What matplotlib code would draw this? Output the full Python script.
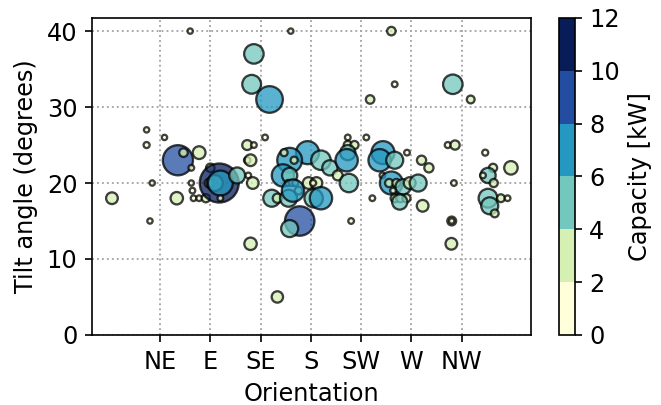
import matplotlib
matplotlib.use("Agg")
import matplotlib.pyplot as plt
import matplotlib.colors as mcolors
import matplotlib.cm as cm

# orientation in degrees (0 = N, 90 = E, 180 = S ...)
orientation = [2, 33, 49, 33, 38, 36, 72, 61, 66, 80, 73, 90, 60, 73, 74, 75, 80, 86,
               98, 89, 94, 99, 99, 114, 124, 128, 123, 129, 123, 126, 139,
               129, 127, 143, 162, 145, 150, 160, 126, 150,
               177, 161, 156, 165, 189, 197, 204, 155, 161, 159.5, 163, 166, 169, 164,
               178, 185, 182, 182.5, 189, 170, 161,
               213, 229.6, 213, 219, 213, 212, 214, 233, 244.5, 241.5, 255, 266, 244,
               252, 250, 256.5, 262.5, 268.4, 276, 253.5, 255, 260, 265.5, 259.5, 235,
               279, 285.6, 280, 216, 252, 255,
               307, 323, 302.5, 309, 308, 336, 343, 359, 338.5, 334, 343.6, 338.5, 340,
               350, 356, 344.5, 306, 306, 305.7]
tilt = [18, 27, 26, 25, 20, 15, 40, 23, 24, 24, 22, 22, 18, 20, 19, 18, 18, 18,
        20, 20, 20, 20, 18, 21, 21, 20, 25, 25, 23, 23, 26,
        37, 33, 31, 40, 18, 18, 18, 12, 5,
        24, 23, 24, 23, 23, 22, 21, 21, 21, 20, 20, 20, 19, 19,
        20, 20, 20, 18, 18, 15, 14,
        26, 26, 25, 25, 24, 23, 20, 31, 24, 23, 23, 24, 21,
        20, 20, 20, 19.5, 20, 20, 19, 18, 18, 18, 17.5, 18,
        23, 22, 17, 15, 40, 33,
        33, 31, 25, 25, 20, 24, 22, 22, 21, 21, 20, 18, 17,
        18, 18, 16, 15, 15, 12]
capacity = [3.3, 1.5, 1.5, 1.7, 1.5, 1.5, 1.5, 8.5, 2.4, 3.6, 1.6, 2.4, 3.5, 1.5, 1.6, 1.6, 1.6, 2.3,
            11, 2.5, 4.5, 7, 1.6, 4.5, 1.6, 3.3, 2.8, 1.6, 1.8, 3.3, 1.6,
            5.5, 5.3, 7.5, 1.5, 4.8, 2.6, 4.8, 3.5, 3.2,
            6.5, 7, 2.0, 2.0, 5.5, 4.3, 2.8, 6.3, 4.3, 1.7, 1.7, 1.7, 2.2, 6.3,
            3.3, 3.3, 1.7, 5.2, 6.3, 8.3, 4.8,
            1.6, 1.6, 2.3, 2.3, 4.3, 6.3, 5.2, 2.4, 6.5, 6.3, 4.8, 1.6, 1.6,
            6.5, 2.3, 2.3, 4.3, 3.3, 4.8, 1.6, 2.3, 2.3, 2.3, 4.3, 1.6,
            2.6, 2.6, 3.3, 1.6, 2.4, 1.6,
            5.5, 2.2, 1.7, 2.6, 1.6, 1.7, 2.3, 3.8, 4.3, 1.6, 2.3, 5.3, 4.8,
            2.2, 1.6, 2.2, 2.5, 1.5, 3.3]

tick_pos = [45, 90, 135, 180, 225, 270, 315]
tick_labels = ["NE", "E", "SE", "S", "SW", "W", "NW"]
bounds = [0, 2, 4, 6, 8, 10, 12]

plt.rcParams["font.size"] = 11.5

cmap = plt.get_cmap("YlGnBu", 6)
norm = mcolors.BoundaryNorm(bounds, cmap.N)

fig = plt.figure(figsize=(4.413, 2.7), dpi=150)
ax = fig.add_axes([0.139, 0.173, 0.663, 0.783])
cax = fig.add_axes([0.845, 0.173, 0.023, 0.783])

sizes = [2.9 * c ** 2 for c in capacity]
ax.scatter(orientation, tilt, s=sizes, c=capacity, cmap=cmap, norm=norm,
           edgecolors="k", linewidths=1.1, alpha=0.75, zorder=3)

ax.set_ylim(bottom=0)
ax.set_xticks(tick_pos)
ax.set_xticklabels(tick_labels)
ax.set_yticks([0, 10, 20, 30, 40])
ax.grid(True, linestyle=":", color="0.65", linewidth=0.9)
ax.set_axisbelow(True)
ax.set_xlabel("Orientation")
ax.set_ylabel("Tilt angle (degrees)")

sm = cm.ScalarMappable(norm=norm, cmap=cmap)
cb = fig.colorbar(sm, cax=cax, ticks=bounds)
cb.set_label("Capacity [kW]")

fig.savefig("out.png", dpi=150)
